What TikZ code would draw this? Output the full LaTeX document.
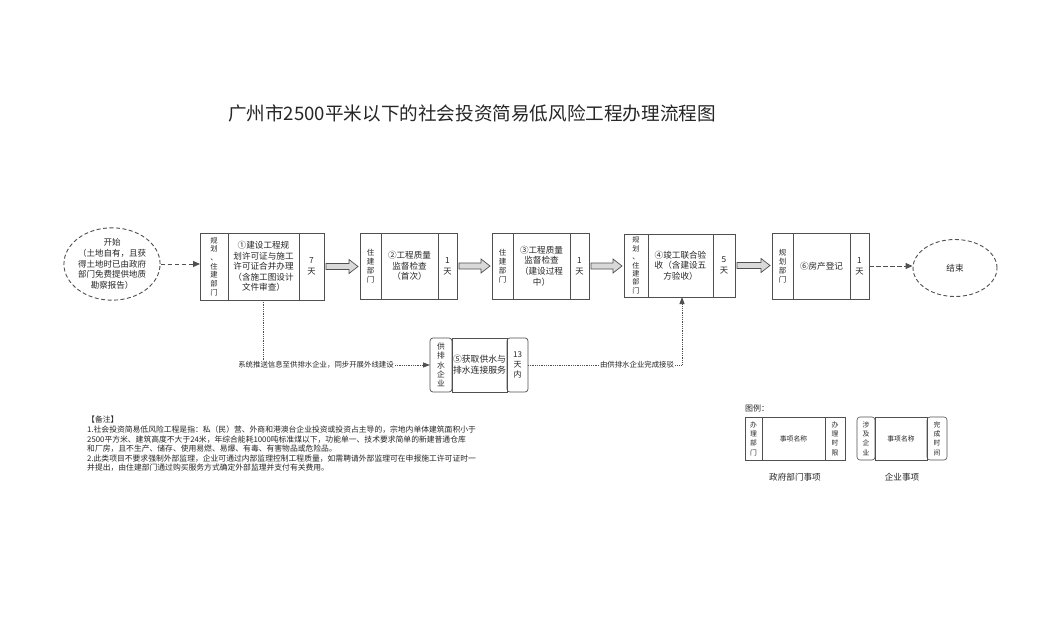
\documentclass[tikz,border=0pt]{standalone}
\usepackage{fontspec}
\setmainfont{Noto Sans CJK SC}
\usetikzlibrary{shapes.geometric,arrows.meta,calc}
\definecolor{linec}{HTML}{505050}
\definecolor{txtc}{HTML}{262626}
\definecolor{arrfill}{HTML}{D9D9D9}
\newcommand{\hollowarrow}[2]{%
  \path[draw=linec, fill=arrfill, line width=0.7pt, line join=miter]
    let \p1=(#1.east), \p2=(#2.west) in
    (\x1+2pt,\y1+3pt) -- (\x2-11pt,\y1+3pt) -- (\x2-11pt,\y1+7pt) -- (\x2-2pt,\y1)
    -- (\x2-11pt,\y1-7pt) -- (\x2-11pt,\y1-3pt) -- (\x1+2pt,\y1-3pt) -- cycle;}
\begin{document}
\begin{tikzpicture}[x=1pt,y=-1pt,
  cell/.style={draw=linec, line width=0.7pt, inner sep=0pt, outer sep=0pt,
    anchor=north west, align=center, text=txtc},
  lcell/.style={cell, font=\fontsize{7.3}{8.7}\selectfont},
  mcell/.style={cell, font=\fontsize{8.6}{10.6}\selectfont},
  rcell/.style={cell, font=\fontsize{8.3}{11}\selectfont},
  rcell5/.style={cell, font=\fontsize{8}{9.8}\selectfont},
  legcell/.style={cell, line width=0.6pt, font=\fontsize{6.8}{9.3}\selectfont},
  ellip/.style={ellipse, draw=linec, line width=0.9pt, dash pattern=on 4pt off 2.5pt,
    inner sep=0pt, align=center, text=txtc, font=\fontsize{8.5}{10.8}\selectfont},
  dasharr/.style={draw=linec, line width=1pt, dash pattern=on 4.5pt off 2.5pt,
    -{Triangle[length=7pt,width=6pt]}},
  dotline/.style={draw=linec, line width=0.8pt, densely dotted},
  dotarr/.style={dotline, -{Triangle[length=7pt,width=5pt]}},
  lbl/.style={inner sep=1pt, text=txtc, font=\fontsize{7.4}{9}\selectfont},
  plain/.style={inner sep=0pt, text=txtc}
]
\useasboundingbox[fill=white] (0,0) rectangle (1057,629);

% title
\node[plain, font=\fontsize{18.6}{22}\selectfont] (title) at (472,113)
  {广州市2500平米以下的社会投资简易低风险工程办理流程图};

% start / end
\node[ellip, minimum width=81pt, minimum height=58pt] (start) at (112,264)
  {开始\\（土地自有，且获\\得土地时已由政府\\部门免费提供地质\\勘察报告）};
\node[ellip, minimum width=84pt, minimum height=57pt, font=\fontsize{8.6}{10}\selectfont] (end) at (955,268) {结束};

% box 1
\node[lcell, minimum width=28pt, minimum height=67pt] (b1l) at (200,233)
  {规\\划\\、\\住\\建\\部\\门};
\node[mcell, minimum width=71pt, minimum height=67pt] (b1m) at (b1l.north east)
  {①建设工程规\\划许可证与施工\\许可证合并办理\\（含施工图设计\\文件审查）};
\node[rcell, minimum width=25pt, minimum height=67pt] (b1r) at (b1m.north east)
  {7\\天};

% box 2
\node[lcell, font=\fontsize{7.5}{9.2}\selectfont, minimum width=21pt, minimum height=66pt] (b2l) at (360,233)
  {住\\建\\部\\门};
\node[mcell, minimum width=57pt, minimum height=66pt] (b2m) at (b2l.north east)
  {②工程质量\\监督检查\\（首次）};
\node[rcell, minimum width=19pt, minimum height=66pt] (b2r) at (b2m.north east)
  {1\\天};

% box 3
\node[lcell, font=\fontsize{7.5}{9.2}\selectfont, minimum width=21pt, minimum height=66pt] (b3l) at (492,233)
  {住\\建\\部\\门};
\node[mcell, minimum width=57pt, minimum height=66pt] (b3m) at (b3l.north east)
  {③工程质量\\监督检查\\（建设过程\\中）};
\node[rcell, minimum width=19pt, minimum height=66pt] (b3r) at (b3m.north east)
  {1\\天};

% box 4
\node[lcell, font=\fontsize{7.1}{8.4}\selectfont, minimum width=24pt, minimum height=63pt] (b4l) at (624,234)
  {规\\划\\、\\住\\建\\部\\门};
\node[mcell, minimum width=65pt, minimum height=63pt] (b4m) at (b4l.north east)
  {④竣工联合验\\收（含建设五\\方验收）};
\node[rcell, minimum width=22pt, minimum height=63pt] (b4r) at (b4m.north east)
  {5\\天};

% box 6
\node[lcell, font=\fontsize{7.5}{9.2}\selectfont, minimum width=21pt, minimum height=66pt] (b6l) at (772,233)
  {规\\划\\部\\门};
\node[mcell, minimum width=57pt, minimum height=66pt] (b6m) at (b6l.north east)
  {⑥房产登记};
\node[rcell, minimum width=19pt, minimum height=66pt] (b6r) at (b6m.north east)
  {1\\天};

% box 5 (enterprise)
\node[lcell, font=\fontsize{7.8}{9.3}\selectfont, rounded corners=3pt, minimum width=22pt, minimum height=54pt] (b5l) at (430,338)
  {供\\排\\水\\企\\业};
\node[mcell, font=\fontsize{8.8}{11}\selectfont, minimum width=55pt, minimum height=54pt] (b5m) at (b5l.north east)
  {⑤获取供水与\\排水连接服务};
\node[rcell5, rounded corners=3pt, minimum width=21pt, minimum height=54pt] (b5r) at (b5m.north east)
  {13\\天\\内};

% hollow arrows
\hollowarrow{b1r}{b2l}
\hollowarrow{b2r}{b3l}
\hollowarrow{b3r}{b4l}
\hollowarrow{b4r}{b6l}

% dashed arrows
\draw[dasharr] (start.east) -- (start.east -| b1l.west);
\draw[dasharr] (b6r.east) -- (b6r.east -| end.west);

% dotted side branch
\node[lbl] (lbl1) at (316,365) {系统推送信息至供排水企业，同步开展外线建设};
\node[lbl] (lbl2) at (637,365) {由供排水企业完成接驳};
\draw[dotline] (b1m.south) -- (b1m.south |- lbl1.north);
\draw[dotarr] (lbl1.east) -- (lbl1.east -| b5l.west);
\draw[dotline] (b5r.east |- lbl2.west) -- (lbl2.west);
\coordinate (c2) at (682,365);
\draw[dotarr] (lbl2.east) -- (c2) -- (c2 |- b4m.south);

% notes
\node[plain, anchor=north west, align=left, font=\fontsize{7.8}{9.6}\selectfont] (notes) at (87,416)
  {【备注】\\
   1.社会投资简易低风险工程是指：私（民）营、外商和港澳台企业投资或投资占主导的，宗地内单体建筑面积小于\\
   2500平方米、建筑高度不大于24米，年综合能耗1000吨标准煤以下，功能单一、技术要求简单的新建普通仓库\\
   和厂房，且不生产、储存、使用易燃、易爆、有毒、有害物品或危险品。\\
   2.此类项目不要求强制外部监理，企业可通过内部监理控制工程质量，如需聘请外部监理可在申报施工许可证时一\\
   并提出，由住建部门通过购买服务方式确定外部监理并支付有关费用。};

% legend
\node[plain, anchor=west, font=\fontsize{8}{9}\selectfont] (legtitle) at (745,408) {图例：};
\node[legcell, minimum width=17pt, minimum height=43pt] (g1l) at (745,417) {办\\理\\部\\门};
\node[legcell, minimum width=63pt, minimum height=43pt] (g1m) at (g1l.north east) {事项名称};
\node[legcell, minimum width=20pt, minimum height=43pt] (g1r) at (g1m.north east) {办\\理\\时\\限};
\node[legcell, rounded corners=3pt, minimum width=18pt, minimum height=43pt] (g2l) at (857,417) {涉\\及\\企\\业};
\node[legcell, minimum width=52pt, minimum height=43pt] (g2m) at (g2l.north east) {事项名称};
\node[legcell, rounded corners=3pt, minimum width=20pt, minimum height=43pt] (g2r) at (g2m.north east) {完\\成\\时\\间};
\node[plain, font=\fontsize{8.6}{10}\selectfont] (leg1) at (795,477) {政府部门事项};
\node[plain, font=\fontsize{8.6}{10}\selectfont] (leg2) at (902,477) {企业事项};
\end{tikzpicture}
\end{document}
